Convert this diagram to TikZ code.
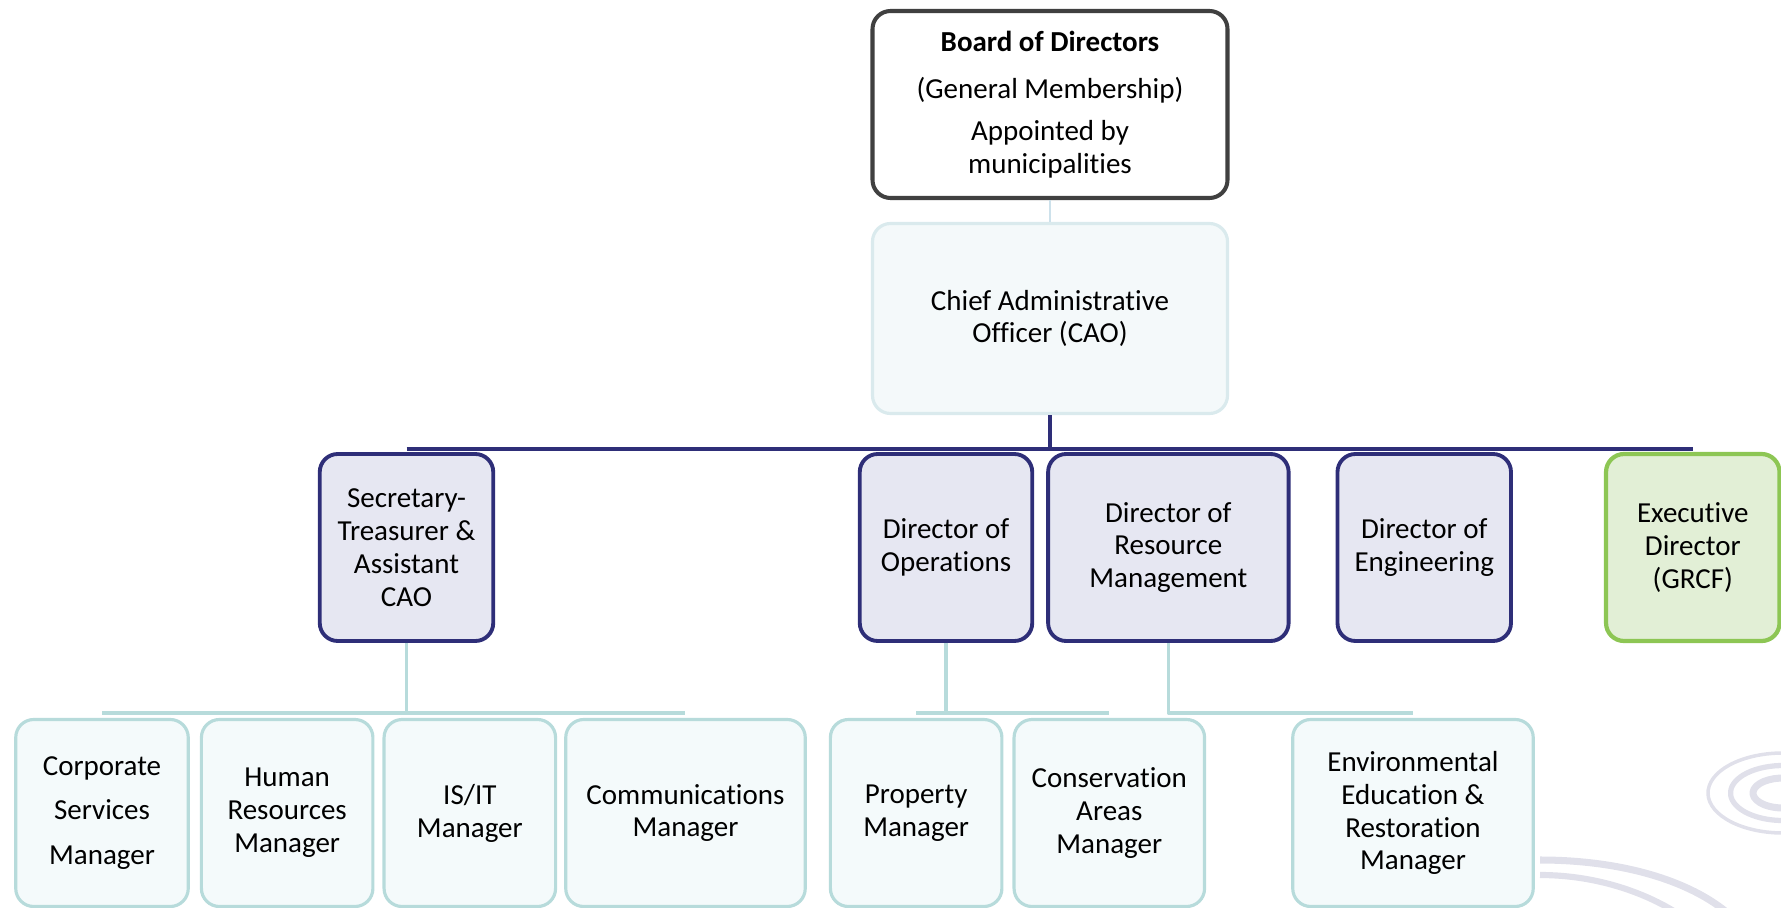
\documentclass[tikz,border=0pt]{standalone}
\usepackage{fontspec}
\setmainfont{Carlito}[Ligatures={NoCommon}]
\usetikzlibrary{positioning}

\definecolor{boardline}{RGB}{64,64,64}
\definecolor{navy}{RGB}{46,46,120}
\definecolor{dirfill}{RGB}{230,231,242}
\definecolor{caofill}{RGB}{244,249,250}
\definecolor{caoline}{RGB}{218,234,237}
\definecolor{mgrfill}{RGB}{244,250,251}
\definecolor{mgrline}{RGB}{183,219,219}
\definecolor{grcfline}{RGB}{141,198,84}
\definecolor{grcffill}{RGB}{226,239,214}
\definecolor{thinlink}{RGB}{205,225,235}
\definecolor{swirl}{RGB}{224,224,234}

\begin{document}
\begin{tikzpicture}[
      font = \fontsize{16.5}{18.7}\selectfont,
      line join = round]
      \tikzstyle{every node}=[
      align = center,
      rounded corners = 0.36cm]
      \tikzstyle{board}=[
      draw = boardline,
      line width = 2.3pt,
      fill = white,
      minimum width = 7.1cm,
      minimum height = 3.74cm]
      \tikzstyle{cao}=[
      draw = caoline,
      line width = 1.8pt,
      fill = caofill,
      minimum width = 7.1cm,
      minimum height = 3.8cm]
      \tikzstyle{director}=[
      draw = navy,
      line width = 2.2pt,
      fill = dirfill,
      minimum height = 3.74cm]
      \tikzstyle{grcf}=[
      draw = grcfline,
      line width = 2.4pt,
      fill = grcffill,
      minimum height = 3.74cm]
      \tikzstyle{manager}=[
      draw = mgrline,
      line width = 1.8pt,
      fill = mgrfill,
      minimum height = 3.74cm]
      \tikzstyle{navyline}=[draw = navy, line width = 2.4pt]
      \tikzstyle{lowline}=[draw = mgrline, line width = 1.8pt]

      \useasboundingbox (0,0) rectangle (35.62,-18.16);

      % faint swirl in the corner
      \draw[swirl, line width = 2pt] (35.66,-15.86) ++(80:1.5cm and 0.8cm) arc[start angle=80, end angle=290, x radius=1.5cm, y radius=0.8cm];
      \draw[swirl, line width = 3pt] (35.66,-15.86) ++(60:1.05cm and 0.55cm) arc[start angle=60, end angle=300, x radius=1.05cm, y radius=0.55cm];
      \draw[swirl, line width = 4pt] (35.66,-15.86) ++(40:0.6cm and 0.3cm) arc[start angle=40, end angle=320, x radius=0.6cm, y radius=0.3cm];
      \draw[swirl, line width = 4pt] (30.8,-17.2) .. controls (32.4,-17.2) and (33.8,-17.6) .. (34.6,-18.3);
      \draw[swirl, line width = 3.5pt] (30.8,-17.5) .. controls (32,-17.5) and (33,-17.9) .. (33.6,-18.3);

      \node[board] (board) at (21,-2.09) {\textbf{Board of Directors}\\[0.29cm](General Membership)\\[0.18cm]Appointed by\\municipalities};
      \node[cao] (cao) at (21,-6.37) {Chief Administrative\\Officer (CAO)};

      \node[director, minimum width = 3.47cm] (sec) at (8.13,-10.95) {Secretary-\\Treasurer \&\\Assistant\\CAO};
      \node[director, minimum width = 3.45cm] (ops) at (18.92,-10.95) {Director of\\Operations};
      \node[director, minimum width = 4.81cm] (res) [right=0.24cm of ops] {Director of\\Resource\\Management};
      \node[director, minimum width = 3.47cm] (eng) [right=0.9cm of res] {Director of\\Engineering};
      \node[grcf, minimum width = 3.47cm] (exec) [right=1.82cm of eng] {Executive\\Director\\(GRCF)};

      \node[manager, minimum width = 3.45cm] (corp) at (2.04,-16.26) {Corporate\\[0.24cm]Services\\[0.24cm]Manager};
      \node[manager, minimum width = 3.43cm] (hr) [right=0.2cm of corp] {Human\\Resources\\Manager};
      \node[manager, minimum width = 3.43cm] (isit) [right=0.16cm of hr] {IS/IT\\Manager};
      \node[manager, minimum width = 4.79cm] (comm) [right=0.14cm of isit] {Communications\\Manager};
      \node[manager, minimum width = 3.43cm] (prop) [right=0.44cm of comm] {Property\\Manager};
      \node[manager, minimum width = 3.81cm] (cons) [right=0.18cm of prop] {Conservation\\Areas\\Manager};
      \node[manager, minimum width = 4.81cm] (env) [right=1.7cm of cons] {Environmental\\Education \&\\Restoration\\Manager};

      \coordinate (topbar) at (0,-8.98);
      \coordinate (lowbar) at (0,-14.26);

      \draw[thinlink, line width = 1.6pt] (board.south) -- (cao.north);
      \draw[navyline] (cao.south) -- (cao.south |- topbar);
      \draw[navyline] (sec.north |- topbar) -- (exec.north |- topbar);

      \draw[lowline] (sec.south) -- (sec.south |- lowbar);
      \draw[lowline] (corp.north |- lowbar) -- (comm.north |- lowbar);
      \draw[lowline] (ops.south) -- (ops.south |- lowbar);
      \draw[lowline] (prop.north |- lowbar) -- (cons.north |- lowbar);
      \draw[lowline] (res.south) -- (res.south |- lowbar) -- (env.north |- lowbar);
\end{tikzpicture}
\end{document}
